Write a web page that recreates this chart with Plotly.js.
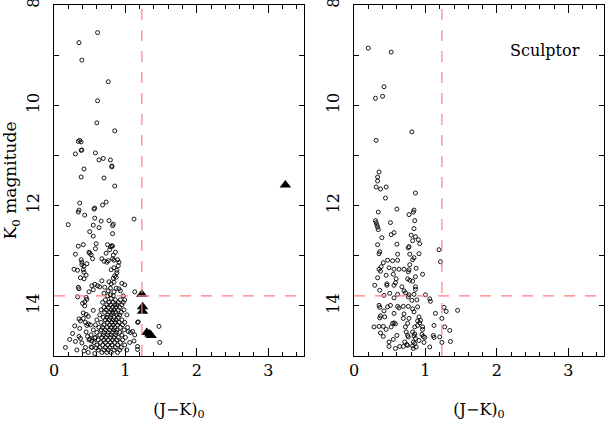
<!DOCTYPE html>
<html>
<head>
<meta charset="utf-8">
<script src="https://cdn.plot.ly/plotly-3.0.1.min.js"></script>
<style>
  html, body { margin: 0; padding: 0; background: #fff; }
  #chart { width: 606px; height: 424px; }
</style>
</head>
<body>
<div id="chart"></div>
<script>
// ---- data: [J-K, K0] ---------------------------------------------
const leftStars = [
  [0.61,8.55],[0.35,8.75],[0.39,9.10],[0.76,9.53],[0.61,9.91],[0.60,10.35],[0.85,10.51],
  [0.34,10.72],[0.36,10.70],[0.38,10.73],[0.38,10.90],[0.39,10.89],[0.30,10.97],[0.58,10.95],
  [0.63,11.09],[0.69,11.06],[0.79,11.09],[0.81,11.21],[0.81,11.23],[0.42,11.27],[0.38,11.43],[0.70,11.45],
  [0.85,11.61],[0.36,11.95],[0.57,12.05],[0.56,12.07],[0.68,11.99],[0.73,11.93],[0.35,12.09],[0.34,12.13],
  [0.43,12.19],[0.20,12.38],[0.57,12.25],[0.66,12.31],[0.77,12.30],[0.83,12.37],[0.82,12.40],[1.12,12.27],
  [0.55,12.39],[0.63,12.44],[0.50,12.52],[0.82,12.56],[0.55,12.61],[0.59,12.76],[0.41,12.78],[0.34,12.81],
  [0.58,12.86],[0.75,12.78],[0.79,12.82],[0.82,12.81],[0.81,12.80],[0.78,12.88],[0.86,12.93],[0.49,12.93],
  [0.50,12.95],[0.52,12.98],[0.30,12.97],[0.73,12.95],[0.83,12.99],[0.54,13.06],[0.67,13.06],[0.70,13.11],
  [0.74,13.13],[0.76,13.10],[0.82,13.06],[0.84,13.09],[0.89,13.08],[0.91,13.13],[0.90,13.20],[0.84,13.24],
  [0.38,13.08],[0.39,13.13],[0.39,13.18],[0.46,13.16],[0.42,13.21],
  [0.28,13.27],[0.33,13.29],[0.41,13.28],[0.42,13.33],[0.45,13.39],[0.80,13.28],[0.88,13.29],[0.88,13.34],
  [0.85,13.40],[0.87,13.43],[0.83,13.45],[0.37,13.44],[0.42,13.46],[0.53,13.60],[0.57,13.57],[0.61,13.60],
  [0.64,13.62],[0.67,13.50],[0.77,13.52],[0.80,13.56],[0.84,13.53],[0.95,13.55],[0.99,13.58],[0.34,13.63],
  [0.35,13.66],[0.71,13.63],[0.79,13.65],[0.87,13.65],[0.84,13.72],[0.91,13.66],[0.93,13.70],[1.13,13.72],
  [0.49,13.72],[0.55,13.68],[0.33,13.82],[0.75,13.80],[0.79,13.78],[0.83,13.80],[0.80,13.85],[0.97,13.80],
  [0.99,13.88],[0.70,13.75],[0.76,13.70],
  // dense clump below the cut
  [0.72,13.88],[0.86,13.88],[0.93,13.88],
  [0.68,13.93],[0.77,13.93],[0.83,13.93],[0.90,13.93],[0.97,13.93],
  [0.74,13.98],[0.79,13.98],[0.85,13.98],[0.88,13.98],[0.95,13.98],
  [0.70,14.03],[0.76,14.03],[0.82,14.03],[0.87,14.03],[0.92,14.03],
  [0.66,14.08],[0.73,14.08],[0.80,14.08],[0.84,14.08],[0.90,14.08],[0.98,14.08],
  [0.71,14.13],[0.78,14.13],[0.82,14.13],[0.86,14.13],[0.94,14.13],
  [0.64,14.18],[0.75,14.18],[0.80,14.18],[0.88,14.18],[0.92,14.18],[1.02,14.18],
  [0.69,14.23],[0.74,14.23],[0.79,14.23],[0.84,14.23],[0.90,14.23],
  [0.60,14.28],[0.72,14.28],[0.77,14.28],[0.83,14.28],[0.87,14.28],[0.95,14.28],
  [0.66,14.33],[0.75,14.33],[0.81,14.33],[0.86,14.33],[0.91,14.33],[0.99,14.33],[1.17,14.33],
  [0.58,14.38],[0.70,14.38],[0.78,14.38],[0.83,14.38],[0.89,14.38],[0.96,14.38],
  [0.63,14.43],[0.68,14.43],[0.74,14.43],[0.80,14.43],[0.85,14.43],[0.93,14.43],[1.03,14.43],
  [0.55,14.48],[0.66,14.48],[0.72,14.48],[0.78,14.48],[0.84,14.48],[0.88,14.48],[0.98,14.48],
  [0.60,14.53],[0.70,14.53],[0.76,14.53],[0.82,14.53],[0.87,14.53],[0.92,14.53],[1.07,14.53],
  [0.52,14.58],[0.64,14.58],[0.69,14.58],[0.75,14.58],[0.80,14.58],[0.86,14.58],[0.95,14.58],[1.13,14.58],
  [0.58,14.63],[0.67,14.63],[0.73,14.63],[0.79,14.63],[0.84,14.63],[0.90,14.63],[1.00,14.63],
  [0.49,14.68],[0.62,14.68],[0.70,14.68],[0.76,14.68],[0.82,14.68],[0.88,14.68],[0.96,14.68],
  [0.56,14.73],[0.65,14.73],[0.72,14.73],[0.79,14.73],[0.85,14.73],[0.93,14.73],[1.06,14.73],
  [0.60,14.78],[0.68,14.78],[0.75,14.78],[0.81,14.78],[0.89,14.78],[0.99,14.78],
  [0.53,14.83],[0.64,14.83],[0.72,14.83],[0.78,14.83],[0.86,14.83],[0.94,14.83],
  [0.62,14.88],[0.70,14.88],[0.76,14.88],[0.84,14.88],[0.92,14.88],
  [0.67,14.93],[0.74,14.93],[0.80,14.93],[0.89,14.93],
  // blue edge and stragglers
  [0.45,13.83],[0.43,13.92],[0.46,13.87],[0.40,13.95],[0.43,14.00],[0.55,14.09],[0.41,14.14],[0.45,14.17],
  [0.48,14.21],[0.35,14.26],[0.37,14.30],[0.41,14.25],[0.44,14.33],[0.48,14.36],[0.46,14.39],[0.51,14.38],
  [0.26,14.55],[0.22,14.67],[0.16,14.83],[0.35,14.61],[0.37,14.65],[0.47,14.61],[0.50,14.66],[0.53,14.70],
  [0.57,14.64],[0.44,14.83],[0.52,14.82],[0.59,14.84],[0.30,14.71],[0.39,14.74],[0.45,14.52],[0.36,14.45],
  [0.29,14.40],[0.32,14.88],[0.42,14.90],[0.48,14.93],[0.57,14.95],
  [1.04,14.51],[1.10,14.51],[1.12,14.70],[1.17,14.81],[1.18,14.32],[1.17,14.87],
  [1.47,14.41],[1.48,14.73],[1.02,14.88]
];

const leftCarbon = [
  [1.23,13.77],[1.24,14.02],[1.24,14.11],[1.30,14.53],[1.36,14.59],[1.34,14.56],[3.24,11.59]
];

const rightStars = [
  [0.20,8.86],[0.52,8.94],[0.42,9.63],[0.40,9.82],[0.30,9.86],[0.81,10.53],[0.31,10.70],
  [0.35,11.33],[0.33,11.43],[0.33,11.51],[0.31,11.63],[0.45,11.63],[0.37,11.67],[0.44,11.85],[0.86,11.75],
  [0.34,12.13],[0.60,12.07],[0.84,12.09],[0.83,12.13],[0.77,12.18],
  [0.30,12.30],[0.31,12.34],[0.32,12.39],[0.33,12.43],[0.34,12.48],[0.51,12.34],[0.85,12.30],[0.84,12.46],
  [0.56,12.54],[0.52,12.58],[0.80,12.59],[0.86,12.62],[0.39,12.64],[0.82,12.70],[0.90,12.68],[0.92,12.76],
  [0.60,12.77],[0.33,12.78],[0.36,12.92],[0.35,12.96],[0.76,12.84],[0.77,12.82],[1.19,12.88],[0.91,12.96],
  [0.61,12.97],[0.61,13.09],[0.78,12.97],[0.47,13.09],[0.54,13.10],[0.84,13.04],[0.82,13.08],[1.21,13.12],
  [0.41,13.14],[0.78,13.18],[0.38,13.22],[0.35,13.27],[0.37,13.31],[0.49,13.24],[0.56,13.27],[0.63,13.27],
  [0.70,13.27],[0.77,13.28],[0.76,13.32],[0.87,13.25],[0.96,13.37],[0.45,13.39],[0.55,13.37],[0.59,13.46],
  [0.33,13.44],[0.75,13.46],[0.78,13.49],[0.82,13.51],[0.86,13.42],[0.46,13.56],[0.46,13.59],[0.56,13.59],
  [0.58,13.54],[0.29,13.59],[0.67,13.62],[0.70,13.70],[0.86,13.62],[0.86,13.67],[0.36,13.69],[0.50,13.75],
  [0.61,13.77],[0.72,13.74],[0.77,13.78],[0.76,13.82],[0.84,13.77],[0.88,13.88],[1.00,13.78],[1.06,13.86],
  [1.07,13.91],[0.42,13.79],[0.56,13.84],[0.81,13.89],
  [0.35,13.99],[0.36,14.03],[0.47,14.02],[0.51,13.99],[0.61,14.01],[0.63,14.04],[0.69,14.01],[0.76,14.01],
  [0.82,14.06],[0.89,14.02],[1.26,14.03],[1.29,14.11],[1.45,14.09],[0.42,14.10],[0.37,14.20],[0.36,14.24],
  [0.43,14.22],[0.56,14.15],[0.70,14.16],[0.84,14.12],[0.91,14.22],[1.14,14.15],[1.23,14.25],[0.69,14.25],
  [0.77,14.25],[0.89,14.30],[0.93,14.29],[0.92,14.34],[0.28,14.42],[0.35,14.41],[0.41,14.41],[0.54,14.35],
  [0.56,14.34],[0.58,14.36],[0.52,14.42],[0.72,14.42],[0.75,14.35],[0.85,14.42],[0.89,14.39],[0.96,14.42],
  [0.96,14.47],[1.12,14.39],[1.27,14.42],[0.37,14.54],[0.41,14.61],[0.45,14.47],[0.60,14.59],[0.73,14.52],
  [0.75,14.59],[0.76,14.62],[0.82,14.52],[0.85,14.56],[0.84,14.60],[0.95,14.57],[0.97,14.61],[0.99,14.63],
  [1.11,14.59],[1.12,14.63],[1.34,14.49],[1.20,14.62],[0.49,14.72],[0.55,14.67],[0.71,14.72],[0.74,14.77],
  [0.83,14.72],[0.85,14.75],[0.86,14.65],[0.91,14.69],[0.98,14.73],[1.23,14.73],[1.35,14.71],[0.49,14.81],
  [0.58,14.85],[0.64,14.81],[0.69,14.81],[0.75,14.79],[0.82,14.80],[0.83,14.85],[0.87,14.82],[1.06,14.82]
];

const xTicks = [0, 1, 2, 3];
const yTicks = [8, 10, 12, 14];
const jkCut = 1.23;
const kCut = 13.8;
const panelLabel = 'Sculptor';

// ---- styling --------------------------------------------------------
const FONT = 'DejaVu Serif, serif';
const CUT = '#ff7f7f';

const xAxis = (domain) => ({
  domain, range: [0, 3.5], tickvals: xTicks,
  ticks: 'inside', ticklen: 8, tickwidth: 1, tickcolor: '#000',
  minor: { dtick: 0.2, tick0: 0, ticks: 'inside', ticklen: 4, tickcolor: '#000', showgrid: false },
  showline: true, linecolor: '#000', linewidth: 1, mirror: 'ticks',
  showgrid: false, zeroline: false,
  tickfont: { family: FONT, size: 16, color: '#000' },
  ticklabelstandoff: 0,
  title: { text: '(J\u2212K)<sub>0</sub>', font: { family: FONT, size: 16, color: '#000' }, standoff: 24 },
});

const yAxis = (anchor, title) => ({
  anchor, range: [15, 8], tickvals: yTicks, tickangle: -90,
  ticklabeloverflow: 'allow',
  ticks: 'inside', ticklen: 5, tickwidth: 1, tickcolor: '#000',
  minor: { dtick: 1, tick0: 8, ticks: 'inside', ticklen: 5, tickcolor: '#000', showgrid: false },
  showline: true, linecolor: '#000', linewidth: 1, mirror: 'ticks',
  showgrid: false, zeroline: false,
  tickfont: { family: FONT, size: 16, color: '#000' },
  ticklabelstandoff: 8,
  title: { text: title, font: { family: FONT, size: 17, color: '#000' }, standoff: 2 },
});

const stars = (pts, xa, ya) => ({
  type: 'scatter', mode: 'markers', xaxis: xa, yaxis: ya,
  x: pts.map((p) => p[0]), y: pts.map((p) => p[1]),
  marker: { symbol: 'circle-open', size: 4, color: '#000', line: { width: 0.9, color: '#000' } },
  hoverinfo: 'skip',
});

const cutLines = (xa, ya) => [
  { type: 'line', xref: xa, yref: ya + ' domain', x0: jkCut, x1: jkCut, y0: 0, y1: 1,
    line: { color: CUT, width: 1.2, dash: '11px,10px' } },
  { type: 'line', xref: xa + ' domain', yref: ya, x0: 0, x1: 1, y0: kCut, y1: kCut,
    line: { color: CUT, width: 1.2, dash: '11px,10px' } },
];

const data = [
  stars(leftStars, 'x', 'y'),
  {
    type: 'scatter', mode: 'markers', xaxis: 'x', yaxis: 'y',
    x: leftCarbon.map((p) => p[0]), y: leftCarbon.map((p) => p[1]),
    marker: { symbol: 'triangle-up', size: 10, color: '#000' },
    hoverinfo: 'skip',
  },
  stars(rightStars, 'x2', 'y2'),
];

const layout = {
  width: 606, height: 424,
  margin: { l: 54, r: 2, t: 5, b: 68 },
  paper_bgcolor: '#fff', plot_bgcolor: '#fff',
  showlegend: false,
  font: { family: FONT, color: '#000' },
  xaxis: xAxis([0, 0.4545]),
  yaxis: yAxis('x', 'K<sub>0</sub> magnitude'),
  xaxis2: xAxis([0.5455, 1]),
  yaxis2: yAxis('x2', ''),
  shapes: [...cutLines('x', 'y'), ...cutLines('x2', 'y2')],
  annotations: [{
    xref: 'x2', yref: 'y2', x: 3.19, y: 8.9, xanchor: 'right', yanchor: 'middle',
    text: panelLabel, showarrow: false,
    font: { family: FONT, size: 16, color: '#000' },
  }],
};

Plotly.newPlot('chart', data, layout, { displayModeBar: false, staticPlot: true });
</script>
</body>
</html>
